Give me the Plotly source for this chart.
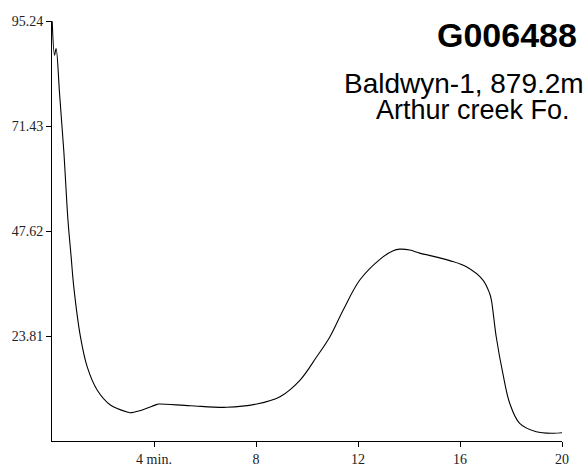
import plotly.graph_objects as go

# Retention time (min) and signal values
time_min = [0.008, 0.10, 0.16, 0.30, 0.46, 0.626, 0.75, 0.853, 1.115, 1.378, 1.77, 2.29,
            3.0, 3.07, 3.44, 4.12, 4.18, 5.42, 6.86, 8.03, 8.94, 9.73, 10.38, 10.9, 11.42,
            12.07, 12.86, 13.38, 13.64, 14.03, 14.42, 15.08, 15.6, 16.25, 16.9, 17.16,
            17.23, 17.42, 17.68, 17.95, 18.34, 18.99, 19.64, 20.03]
signal = [95.2, 87.5, 89.0, 78.5, 66.0, 50.1, 41.8, 35.0, 23.65, 16.85, 11.56, 8.16,
          6.5, 6.42, 6.87, 8.3, 8.39, 8.0, 7.64, 8.39, 10.05, 13.83, 19.1, 23.65, 29.7,
          36.5, 41.2, 43.15, 43.5, 43.3, 42.6, 41.7, 40.9, 39.5, 36.5, 33.5,
          32.0, 23.65, 15.35, 8.55, 4.0, 2.1, 1.75, 1.88]

y_ticks = [23.81, 47.62, 71.43, 95.24]
y_tick_labels = ["23.81", "47.62", "71.43", "95.24"]
x_ticks = [4, 8, 12, 16, 20]
x_tick_labels = ["4 min.", "8", "12", "16", "20"]

title_text = "G006488"
subtitle_lines = ["Baldwyn-1, 879.2m", "Arthur creek Fo."]

fig = go.Figure()
fig.add_trace(go.Scatter(
    x=time_min, y=signal, mode="lines",
    line=dict(color="black", width=1.1, shape="spline", smoothing=1.0),
    hoverinfo="skip", showlegend=False,
))

W, H = 588, 466
L, R, T, B = 51.5, 25.5, 21, 25
plot_h = H - T - B

def py(pix):
    return (H - B - pix) / plot_h

tick_font = dict(family="Liberation Serif", size=14, color="#222")

fig.update_layout(
    width=W, height=H,
    margin=dict(l=L, r=R, t=T, b=B, autoexpand=False),
    paper_bgcolor="white", plot_bgcolor="white",
    showlegend=False,
    xaxis=dict(range=[0, 20], tickvals=x_ticks, ticktext=x_tick_labels,
               showline=True, linecolor="black", linewidth=1,
               ticks="outside", ticklen=5, tickcolor="black", tickwidth=1,
               showgrid=False, zeroline=False, automargin=False,
               tickfont=tick_font),
    yaxis=dict(range=[0, 95.24], tickvals=y_ticks, ticktext=y_tick_labels,
               showline=True, linecolor="black", linewidth=1,
               ticks="outside", ticklen=5, tickcolor="black", tickwidth=1,
               showgrid=False, zeroline=False, automargin=False,
               tickfont=tick_font),
    annotations=[
        dict(text="<b>%s</b>" % title_text, xref="paper", yref="paper",
             x=(580 - L) / (W - L - R), y=py(35), xanchor="right", yanchor="middle",
             showarrow=False, font=dict(family="Liberation Sans", size=34, color="black")),
        dict(text=subtitle_lines[0], xref="paper", yref="paper",
             x=(587 - L) / (W - L - R), y=py(83), xanchor="right", yanchor="middle",
             showarrow=False, font=dict(family="Liberation Sans", size=28, color="black")),
        dict(text=subtitle_lines[1], xref="paper", yref="paper",
             x=(573 - L) / (W - L - R), y=py(110), xanchor="right", yanchor="middle",
             showarrow=False, font=dict(family="Liberation Sans", size=27, color="black")),
    ],
)

fig.write_html("out.html")
